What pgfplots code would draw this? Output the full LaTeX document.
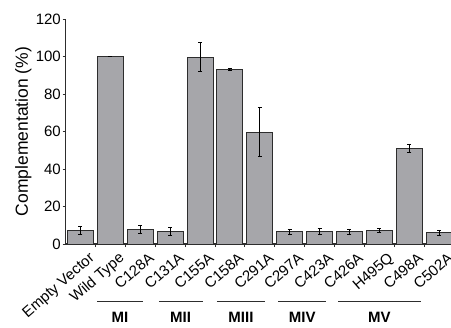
\documentclass[border=0pt]{standalone}
\usepackage{pgfplots}
\pgfplotsset{compat=1.18}
\usepackage{fontspec}
\setmainfont{Liberation Sans}
\definecolor{barfill}{RGB}{166,166,170}
\definecolor{baredge}{RGB}{45,45,45}
\begin{document}
\begin{tikzpicture}
\useasboundingbox (0,0) rectangle (451bp,328bp);
\begin{axis}[
  at={(65.5bp,84bp)}, anchor=south west,
  scale only axis,
  width=385.6bp, height=225bp,
  xmin=-0.5, xmax=12.4, ymin=0, ymax=120,
  clip=false,
  axis lines=left,
  axis line style={-, line width=1.3bp, color=baredge},
  ytick={0,20,...,120},
  xtick={0,...,12},
  xticklabels={Empty Vector,Wild Type,C128A,C131A,C155A,C158A,C291A,C297A,C423A,C426A,H495Q,C498A,C502A},
  minor xtick={0.5,1.5,...,11.5},
  major x tick style={draw=none},
  minor tick length=3bp,
  major tick length=3bp,
  tick align=outside,
  tick style={line width=0.8bp, color=baredge},
  ticklabel style={font=\fontsize{15bp}{17bp}\selectfont},
  /pgf/number format/assume math mode=true,
  xticklabel style={font=\fontsize{15bp}{17bp}\selectfont, rotate=41, anchor=base east, inner sep=0bp, xshift=3bp, yshift=-19bp},
  yticklabel style={inner sep=1.5bp},
  ylabel={Complementation (\%)},
  every axis y label/.style={at={(axis description cs:-0.109,0.5)}, rotate=90, anchor=center, font=\fontsize{17.5bp}{20bp}\selectfont},
]
\addplot[ybar, bar width=0.87, fill=barfill, draw=baredge, line width=1bp,
  error bars/.cd, y dir=both, y explicit,
  error bar style={line width=0.9bp, black},
  error mark options={rotate=90, mark size=2bp, line width=0.9bp, black}]
  table[x=x, y=y, y error=e] {
x y e
0 7.1 2.0
1 100 0
2 7.8 2.1
3 6.6 2.0
4 99.7 7.6
5 93.3 0.5
6 59.7 12.9
7 6.6 1.3
8 6.6 1.7
9 6.4 1.2
10 7.3 1.2
11 51.0 2.0
12 5.9 1.2
};
\draw[line width=0.9bp, color=baredge] ([yshift=-57bp]axis cs:0.56,0) -- ([yshift=-57bp]axis cs:2.08,0);
\draw[line width=0.9bp, color=baredge] ([yshift=-57bp]axis cs:2.62,0) -- ([yshift=-57bp]axis cs:4.09,0);
\draw[line width=0.9bp, color=baredge] ([yshift=-57bp]axis cs:4.56,0) -- ([yshift=-57bp]axis cs:6.17,0);
\draw[line width=0.9bp, color=baredge] ([yshift=-57bp]axis cs:6.61,0) -- ([yshift=-57bp]axis cs:8.22,0);
\draw[line width=0.9bp, color=baredge] ([yshift=-57bp]axis cs:8.62,0) -- ([yshift=-57bp]axis cs:11.38,0);
\path[font=\bfseries\fontsize{15bp}{17bp}\selectfont]
  ([yshift=-73bp]axis cs:1.32,0) node {MI}
  ([yshift=-73bp]axis cs:3.35,0) node {MII}
  ([yshift=-73bp]axis cs:5.37,0) node {MIII}
  ([yshift=-73bp]axis cs:7.42,0) node {MIV}
  ([yshift=-73bp]axis cs:10.0,0) node {MV};
\end{axis}
\end{tikzpicture}
\end{document}
